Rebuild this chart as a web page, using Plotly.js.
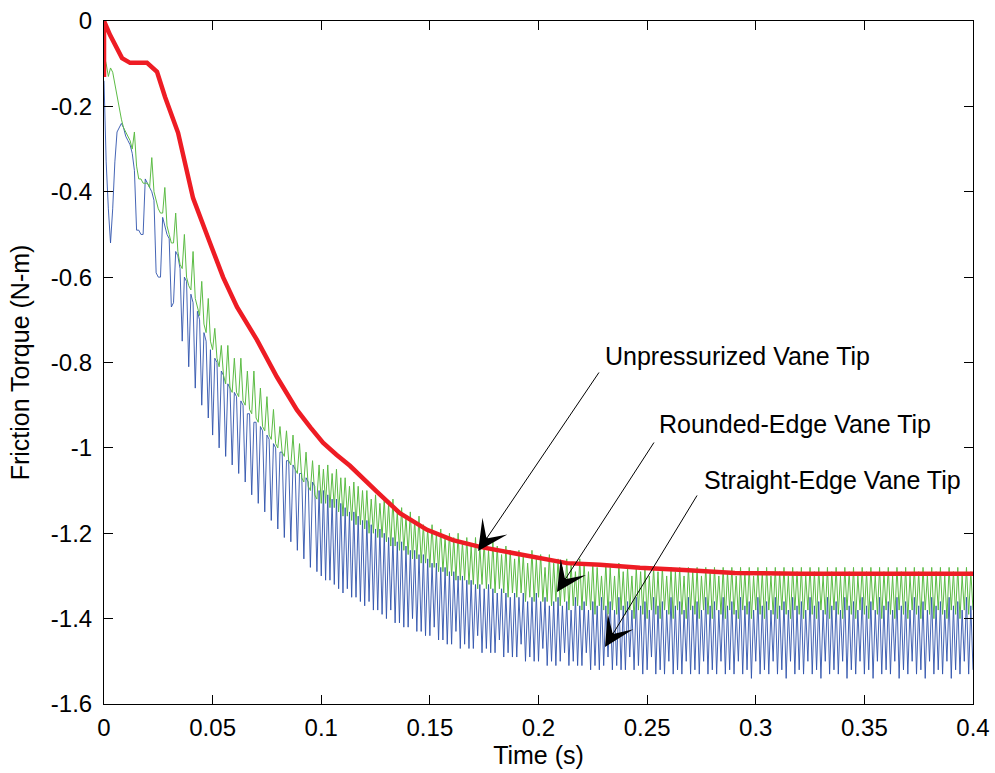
<!DOCTYPE html>
<html>
<head>
<meta charset="utf-8">
<script src="https://cdn.plot.ly/plotly-3.0.1.min.js"></script>
<style>html,body{margin:0;padding:0;background:#fff;}#chart{width:995px;height:773px;}</style>
</head>
<body>
<div id="chart"></div>
<script>
// ---- data ----
// Unpressurized vane tip (red), time (s) and torque (N-m)
const redTime = [0,0,0.0028,0.0083,0.0120,0.0198,0.0244,0.0281,0.0341,0.0410,0.0488,0.0548,0.0612,0.0704,0.0796,0.0888,0.0950,0.1008,0.1070,0.1132,0.1257,0.1362,0.1487,0.1606,0.1731,0.1883,0.2007,0.2131,0.2283,0.2467,0.2670,0.2904,0.3204,0.3664,0.4000];
const redTorque = [-0.131,0,-0.033,-0.087,-0.098,-0.098,-0.119,-0.178,-0.262,-0.415,-0.520,-0.600,-0.670,-0.747,-0.834,-0.911,-0.952,-0.988,-1.016,-1.042,-1.103,-1.153,-1.192,-1.216,-1.232,-1.246,-1.258,-1.270,-1.274,-1.281,-1.286,-1.293,-1.295,-1.295,-1.295];

// sampled signals: first sample time and sample step (s)
const sampleStart = 0;
const sampleStep = 0.001;

// Rounded-edge vane tip (green), one value per sample
const greenTorque = [
-0.08,-0.10,-0.13,-0.11,-0.12,-0.15,-0.18,-0.21,-0.23,-0.25,
-0.26,-0.27,-0.28,-0.30,-0.26,-0.34,-0.37,-0.37,-0.38,-0.38,
-0.38,-0.39,-0.32,-0.40,-0.42,-0.44,-0.45,-0.45,-0.39,-0.48,
-0.50,-0.52,-0.52,-0.45,-0.54,-0.57,-0.58,-0.50,-0.60,-0.62,
-0.63,-0.54,-0.65,-0.67,-0.69,-0.61,-0.71,-0.73,-0.65,-0.75,
-0.77,-0.72,-0.79,-0.81,-0.76,-0.83,-0.85,-0.76,-0.86,-0.87,
-0.79,-0.87,-0.88,-0.79,-0.89,-0.90,-0.82,-0.91,-0.92,-0.82,
-0.93,-0.94,-0.86,-0.95,-0.96,-0.88,-0.97,-0.98,-0.91,-0.99,
-1.00,-0.95,-1.01,-1.02,-0.96,-1.03,-1.04,-0.97,-1.05,-1.06,
-0.99,-1.07,-1.08,-1.01,-1.09,-1.10,-1.03,-1.11,-1.12,-1.04,
-1.13,-1.05,-1.13,-1.04,-1.14,-1.06,-1.14,-1.05,-1.15,-1.07,
-1.16,-1.07,-1.16,-1.09,-1.17,-1.08,-1.18,-1.09,-1.18,-1.10,
-1.19,-1.10,-1.20,-1.12,-1.20,-1.11,-1.21,-1.13,-1.21,-1.12,
-1.22,-1.13,-1.23,-1.12,-1.23,-1.15,-1.24,-1.14,-1.24,-1.16,
-1.25,-1.15,-1.26,-1.17,-1.26,-1.16,-1.27,-1.18,-1.27,-1.19,
-1.28,-1.18,-1.28,-1.20,-1.29,-1.19,-1.29,-1.21,-1.30,-1.20,
-1.30,-1.21,-1.31,-1.20,-1.31,-1.22,-1.31,-1.21,-1.32,-1.23,
-1.32,-1.21,-1.33,-1.23,-1.32,-1.22,-1.33,-1.24,-1.33,-1.22,
-1.34,-1.23,-1.33,-1.25,-1.34,-1.23,-1.35,-1.24,-1.34,-1.26,
-1.35,-1.24,-1.34,-1.25,-1.36,-1.27,-1.35,-1.24,-1.36,-1.26,
-1.35,-1.25,-1.36,-1.28,-1.36,-1.25,-1.37,-1.27,-1.36,-1.26,
-1.37,-1.28,-1.36,-1.26,-1.38,-1.27,-1.37,-1.29,-1.37,-1.26,
-1.38,-1.27,-1.37,-1.29,-1.38,-1.27,-1.39,-1.28,-1.37,-1.30,
-1.38,-1.27,-1.39,-1.28,-1.38,-1.30,-1.39,-1.27,-1.38,-1.29,
-1.39,-1.28,-1.38,-1.30,-1.40,-1.28,-1.38,-1.29,-1.39,-1.28,
-1.40,-1.30,-1.38,-1.28,-1.39,-1.29,-1.40,-1.28,-1.38,-1.30,
-1.39,-1.28,-1.40,-1.29,-1.38,-1.28,-1.39,-1.30,-1.40,-1.28,
-1.38,-1.29,-1.39,-1.28,-1.40,-1.30,-1.38,-1.28,-1.39,-1.29,
-1.40,-1.28,-1.38,-1.30,-1.39,-1.28,-1.40,-1.29,-1.38,-1.28,
-1.39,-1.30,-1.40,-1.28,-1.38,-1.29,-1.39,-1.28,-1.40,-1.30,
-1.38,-1.28,-1.39,-1.29,-1.40,-1.28,-1.38,-1.30,-1.39,-1.28,
-1.40,-1.29,-1.38,-1.28,-1.39,-1.30,-1.40,-1.28,-1.38,-1.29,
-1.39,-1.28,-1.40,-1.30,-1.38,-1.28,-1.39,-1.29,-1.40,-1.28,
-1.38,-1.30,-1.39,-1.28,-1.40,-1.29,-1.38,-1.28,-1.39,-1.30,
-1.40,-1.28,-1.38,-1.29,-1.39,-1.28,-1.40,-1.30,-1.38,-1.28,
-1.39,-1.29,-1.40,-1.28,-1.38,-1.30,-1.39,-1.28,-1.40,-1.29,
-1.38,-1.28,-1.39,-1.30,-1.40,-1.28,-1.38,-1.29,-1.39,-1.28,
-1.40,-1.30,-1.38,-1.28,-1.39,-1.29,-1.40,-1.28,-1.38,-1.30,
-1.39,-1.28,-1.40,-1.29,-1.38,-1.28,-1.39,-1.30,-1.40,-1.28,
-1.38,-1.29,-1.39,-1.28,-1.40,-1.30,-1.38,-1.28,-1.39,-1.29,
-1.38];

// Straight-edge vane tip (blue), one value per sample
const blueTorque = [
-0.14,-0.33,-0.44,-0.52,-0.44,-0.33,-0.26,-0.25,-0.24,-0.25,
-0.27,-0.28,-0.29,-0.31,-0.35,-0.49,-0.49,-0.50,-0.50,-0.37,
-0.38,-0.39,-0.40,-0.42,-0.59,-0.60,-0.60,-0.46,-0.48,-0.50,
-0.51,-0.67,-0.66,-0.54,-0.55,-0.58,-0.75,-0.60,-0.61,-0.81,
-0.64,-0.66,-0.86,-0.68,-0.70,-0.90,-0.73,-0.75,-0.93,-0.77,
-0.97,-0.79,-0.80,-1.00,-0.82,-0.83,-1.02,-0.85,-0.86,-1.04,
-0.87,-0.88,-1.06,-0.89,-0.90,-1.08,-0.92,-0.92,-1.11,-0.94,
-0.94,-1.13,-0.95,-0.96,-1.15,-0.97,-0.98,-1.17,-0.99,-1.00,
-1.19,-1.01,-1.01,-1.21,-1.03,-1.03,-1.22,-1.04,-1.05,-1.24,
-1.06,-1.06,-1.26,-1.07,-1.08,-1.28,-1.08,-1.09,-1.29,-1.10,
-1.30,-1.10,-1.31,-1.11,-1.31,-1.12,-1.32,-1.12,-1.33,-1.13,
-1.34,-1.14,-1.33,-1.15,-1.35,-1.15,-1.35,-1.16,-1.36,-1.17,
-1.37,-1.17,-1.36,-1.18,-1.38,-1.19,-1.38,-1.19,-1.39,-1.20,
-1.40,-1.21,-1.38,-1.21,-1.41,-1.22,-1.41,-1.22,-1.42,-1.23,
-1.42,-1.24,-1.40,-1.24,-1.43,-1.25,-1.43,-1.25,-1.44,-1.26,
-1.44,-1.27,-1.42,-1.27,-1.45,-1.28,-1.45,-1.28,-1.46,-1.29,
-1.46,-1.29,-1.43,-1.30,-1.47,-1.30,-1.46,-1.31,-1.47,-1.31,
-1.47,-1.32,-1.44,-1.32,-1.48,-1.33,-1.47,-1.32,-1.48,-1.33,
-1.48,-1.34,-1.45,-1.33,-1.49,-1.34,-1.48,-1.35,-1.49,-1.34,
-1.49,-1.35,-1.46,-1.34,-1.50,-1.36,-1.49,-1.35,-1.50,-1.34,
-1.50,-1.36,-1.47,-1.35,-1.51,-1.37,-1.50,-1.36,-1.51,-1.35,
-1.50,-1.37,-1.48,-1.36,-1.51,-1.38,-1.50,-1.35,-1.51,-1.37,
-1.51,-1.36,-1.48,-1.38,-1.52,-1.36,-1.51,-1.37,-1.52,-1.35,
-1.51,-1.37,-1.49,-1.36,-1.52,-1.38,-1.51,-1.35,-1.52,-1.37,
-1.52,-1.36,-1.49,-1.38,-1.52,-1.35,-1.51,-1.37,-1.53,-1.36,
-1.52,-1.38,-1.49,-1.35,-1.53,-1.37,-1.52,-1.36,-1.53,-1.38,
-1.50,-1.35,-1.53,-1.37,-1.52,-1.36,-1.53,-1.38,-1.50,-1.35,
-1.53,-1.37,-1.52,-1.36,-1.53,-1.38,-1.50,-1.35,-1.53,-1.37,
-1.52,-1.36,-1.53,-1.38,-1.50,-1.35,-1.53,-1.37,-1.52,-1.36,
-1.53,-1.38,-1.50,-1.35,-1.53,-1.37,-1.52,-1.36,-1.54,-1.38,
-1.50,-1.35,-1.53,-1.37,-1.52,-1.36,-1.53,-1.38,-1.50,-1.35,
-1.53,-1.37,-1.52,-1.36,-1.54,-1.38,-1.50,-1.35,-1.53,-1.37,
-1.52,-1.36,-1.53,-1.38,-1.50,-1.35,-1.53,-1.37,-1.52,-1.36,
-1.54,-1.38,-1.50,-1.35,-1.53,-1.37,-1.52,-1.36,-1.53,-1.38,
-1.50,-1.35,-1.54,-1.37,-1.52,-1.36,-1.53,-1.38,-1.50,-1.35,
-1.53,-1.37,-1.52,-1.36,-1.54,-1.38,-1.50,-1.35,-1.53,-1.37,
-1.52,-1.36,-1.53,-1.38,-1.50,-1.35,-1.54,-1.37,-1.52,-1.36,
-1.53,-1.38,-1.50,-1.35,-1.53,-1.37,-1.52,-1.36,-1.54,-1.38,
-1.50,-1.35,-1.53,-1.37,-1.52,-1.36,-1.53,-1.38,-1.50,-1.35,
-1.54,-1.37,-1.52,-1.36,-1.53,-1.38,-1.50,-1.35,-1.53,-1.37,
-1.52];

const xTickVals = [0,0.05,0.1,0.15,0.2,0.25,0.3,0.35,0.4];
const xTickText = ['0','0.05','0.1','0.15','0.2','0.25','0.3','0.35','0.4'];
const yTickVals = [-1.6,-1.4,-1.2,-1,-0.8,-0.6,-0.4,-0.2,0];
const yTickText = ['-1.6','-1.4','-1.2','-1','-0.8','-0.6','-0.4','-0.2','0'];

const seriesNames = ['Straight-Edge Vane Tip','Rounded-Edge Vane Tip','Unpressurized Vane Tip'];

// ---- chart ----
const FONT = 'Liberation Sans, Arial, Helvetica, sans-serif';
const traces = [
  {type:'scatter', mode:'lines', name:seriesNames[0], y:blueTorque, x0:sampleStart, dx:sampleStep,
   line:{color:'#3053ad', width:0.9}, hoverinfo:'skip'},
  {type:'scatter', mode:'lines', name:seriesNames[1], y:greenTorque, x0:sampleStart, dx:sampleStep,
   line:{color:'#5cbc45', width:1}, hoverinfo:'skip'},
  {type:'scatter', mode:'lines', name:seriesNames[2], x:redTime, y:redTorque,
   line:{color:'#ee1c24', width:4.5}, hoverinfo:'skip'}
];

const axisBase = {
  showline:true, linecolor:'#000', linewidth:1, mirror:'ticks',
  ticks:'inside', ticklen:9, tickwidth:1, tickcolor:'#000',
  showgrid:false, zeroline:false, fixedrange:true,
  tickfont:{family:FONT, size:24, color:'#000'}
};

const arrowBase = {xref:'x', yref:'y', axref:'x', ayref:'y', text:'', showarrow:true,
  arrowhead:3, arrowsize:5, arrowwidth:1, arrowcolor:'#000', standoff:0, startstandoff:0};
const labelBase = {xref:'x', yref:'y', showarrow:false, xanchor:'left', yanchor:'middle',
  font:{family:FONT, size:25, color:'#000'}};

const layout = {
  width:995, height:773,
  margin:{l:104, r:22, t:21, b:69},
  paper_bgcolor:'#fff', plot_bgcolor:'#fff',
  showlegend:false,
  xaxis: Object.assign({}, axisBase, {range:[0,0.4], tickmode:'array', tickvals:xTickVals, ticktext:xTickText,
    ticklabelstandoff:2,
    title:{text:'Time (s)', font:{family:FONT, size:25, color:'#000'}, standoff:2}}),
  yaxis: Object.assign({}, axisBase, {range:[-1.6,0], tickmode:'array', tickvals:yTickVals, ticktext:yTickText,
    ticklabelstandoff:6,
    title:{text:'Friction Torque (N-m)', font:{family:FONT, size:25, color:'#000'}, standoff:14}}),
  annotations:[
    Object.assign({}, arrowBase, {x:0.1722, y:-1.2416, ax:0.2283, ay:-0.8199}),
    Object.assign({}, arrowBase, {x:0.2085, y:-1.3376, ax:0.2536, ay:-0.9839}),
    Object.assign({}, arrowBase, {x:0.2306, y:-1.4665, ax:0.2734, ay:-1.1080}),
    Object.assign({}, labelBase, {x:0.2297, y:-0.7848, text:seriesNames[2]}),
    Object.assign({}, labelBase, {x:0.2545, y:-0.9441, text:seriesNames[1]}),
    Object.assign({}, labelBase, {x:0.2753, y:-1.0753, text:seriesNames[0]})
  ]
};

Plotly.newPlot('chart', traces, layout, {staticPlot:true, displayModeBar:false});
</script>
</body>
</html>
